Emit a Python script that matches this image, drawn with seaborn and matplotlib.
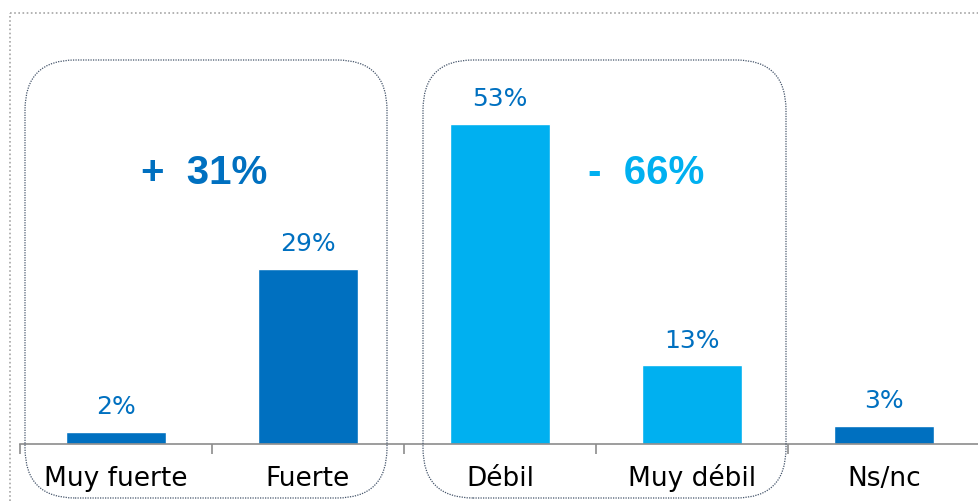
import numpy as np
import pandas as pd
import seaborn as sns
import matplotlib.pyplot as plt
from matplotlib.patches import FancyBboxPatch
from matplotlib.lines import Line2D

# Data
categories = ["Muy fuerte", "Fuerte", "Débil", "Muy débil", "Ns/nc"]
values = [2, 29, 53, 13, 3]
groups = ["fuerte", "fuerte", "debil", "debil", "ns"]
group_colors = {"fuerte": "#0070C0", "debil": "#00B0F0", "ns": "#0070C0"}
totals = ["+  31%", "-  66%"]

df = pd.DataFrame({"cat": categories, "val": values, "grp": groups})

sns.set_style("white")
narrow = ["DejaVu Sans Condensed", "Liberation Sans Narrow", "DejaVu Sans"]
plt.rcParams["font.family"] = ["DejaVu Sans"]

fig = plt.figure(figsize=(9.79, 5.01), dpi=100)
ax = fig.add_axes([20 / 979, 57 / 501, 960 / 979, (444 - 81.6) / 501])

sns.barplot(data=df, x="cat", y="val", hue="grp", palette=group_colors,
            dodge=False, width=0.52, saturation=1, legend=False, ax=ax)

for c in ax.containers:
    ax.bar_label(c, fmt="{:.0f}%", padding=9, color="#0070C0",
                 fontsize=18, family=narrow)

ax.set_xlim(-0.5, 4.5)
ax.set_ylim(0, 60)
ax.set_xlabel("")
ax.set_ylabel("")
ax.set_yticks([])
ax.tick_params(axis="x", which="major", length=0, pad=30, labelsize=19, labelcolor="black")
for lbl in ax.get_xticklabels():
    lbl.set_verticalalignment("baseline")
ax.set_xticks(np.arange(-0.5, 5.0, 1.0), minor=True)
ax.tick_params(axis="x", which="minor", bottom=True, length=7, width=1.2, color="#8C8C8C")
for s in ["left", "right", "top"]:
    ax.spines[s].set_visible(False)
ax.spines["bottom"].set_color("#8C8C8C")
ax.spines["bottom"].set_linewidth(1.2)

# group totals
ax.text(0.46, 44.8, totals[0], color="#0070C0", fontsize=29, fontweight="bold",
        ha="center", va="center", family=["Liberation Sans", "DejaVu Sans"])
ax.text(2.76, 44.8, totals[1], color="#00B0F0", fontsize=29, fontweight="bold",
        ha="center", va="center", family=["Liberation Sans", "DejaVu Sans"])

# rounded dotted boxes around the groups
for x0, x1 in [(0.25, 3.87), (4.23, 7.86)]:
    box = FancyBboxPatch((x0, 0.03), x1 - x0, 4.38,
                         boxstyle="round,pad=0,rounding_size=0.5",
                         transform=fig.dpi_scale_trans, fill=False,
                         edgecolor="#44546A", linestyle=(0, (1, 1)), linewidth=0.9)
    fig.add_artist(box)

# outer dotted frame (top and left only visible)
fig.add_artist(Line2D([10 / 979, 1], [488 / 501, 488 / 501], transform=fig.transFigure,
                      color="#A6A6A6", linestyle=(0, (1, 1.5)), linewidth=1.2))
fig.add_artist(Line2D([10 / 979, 10 / 979], [0, 488 / 501], transform=fig.transFigure,
                      color="#A6A6A6", linestyle=(0, (1, 1.5)), linewidth=1.2))

fig.savefig("out.png", dpi=100)
